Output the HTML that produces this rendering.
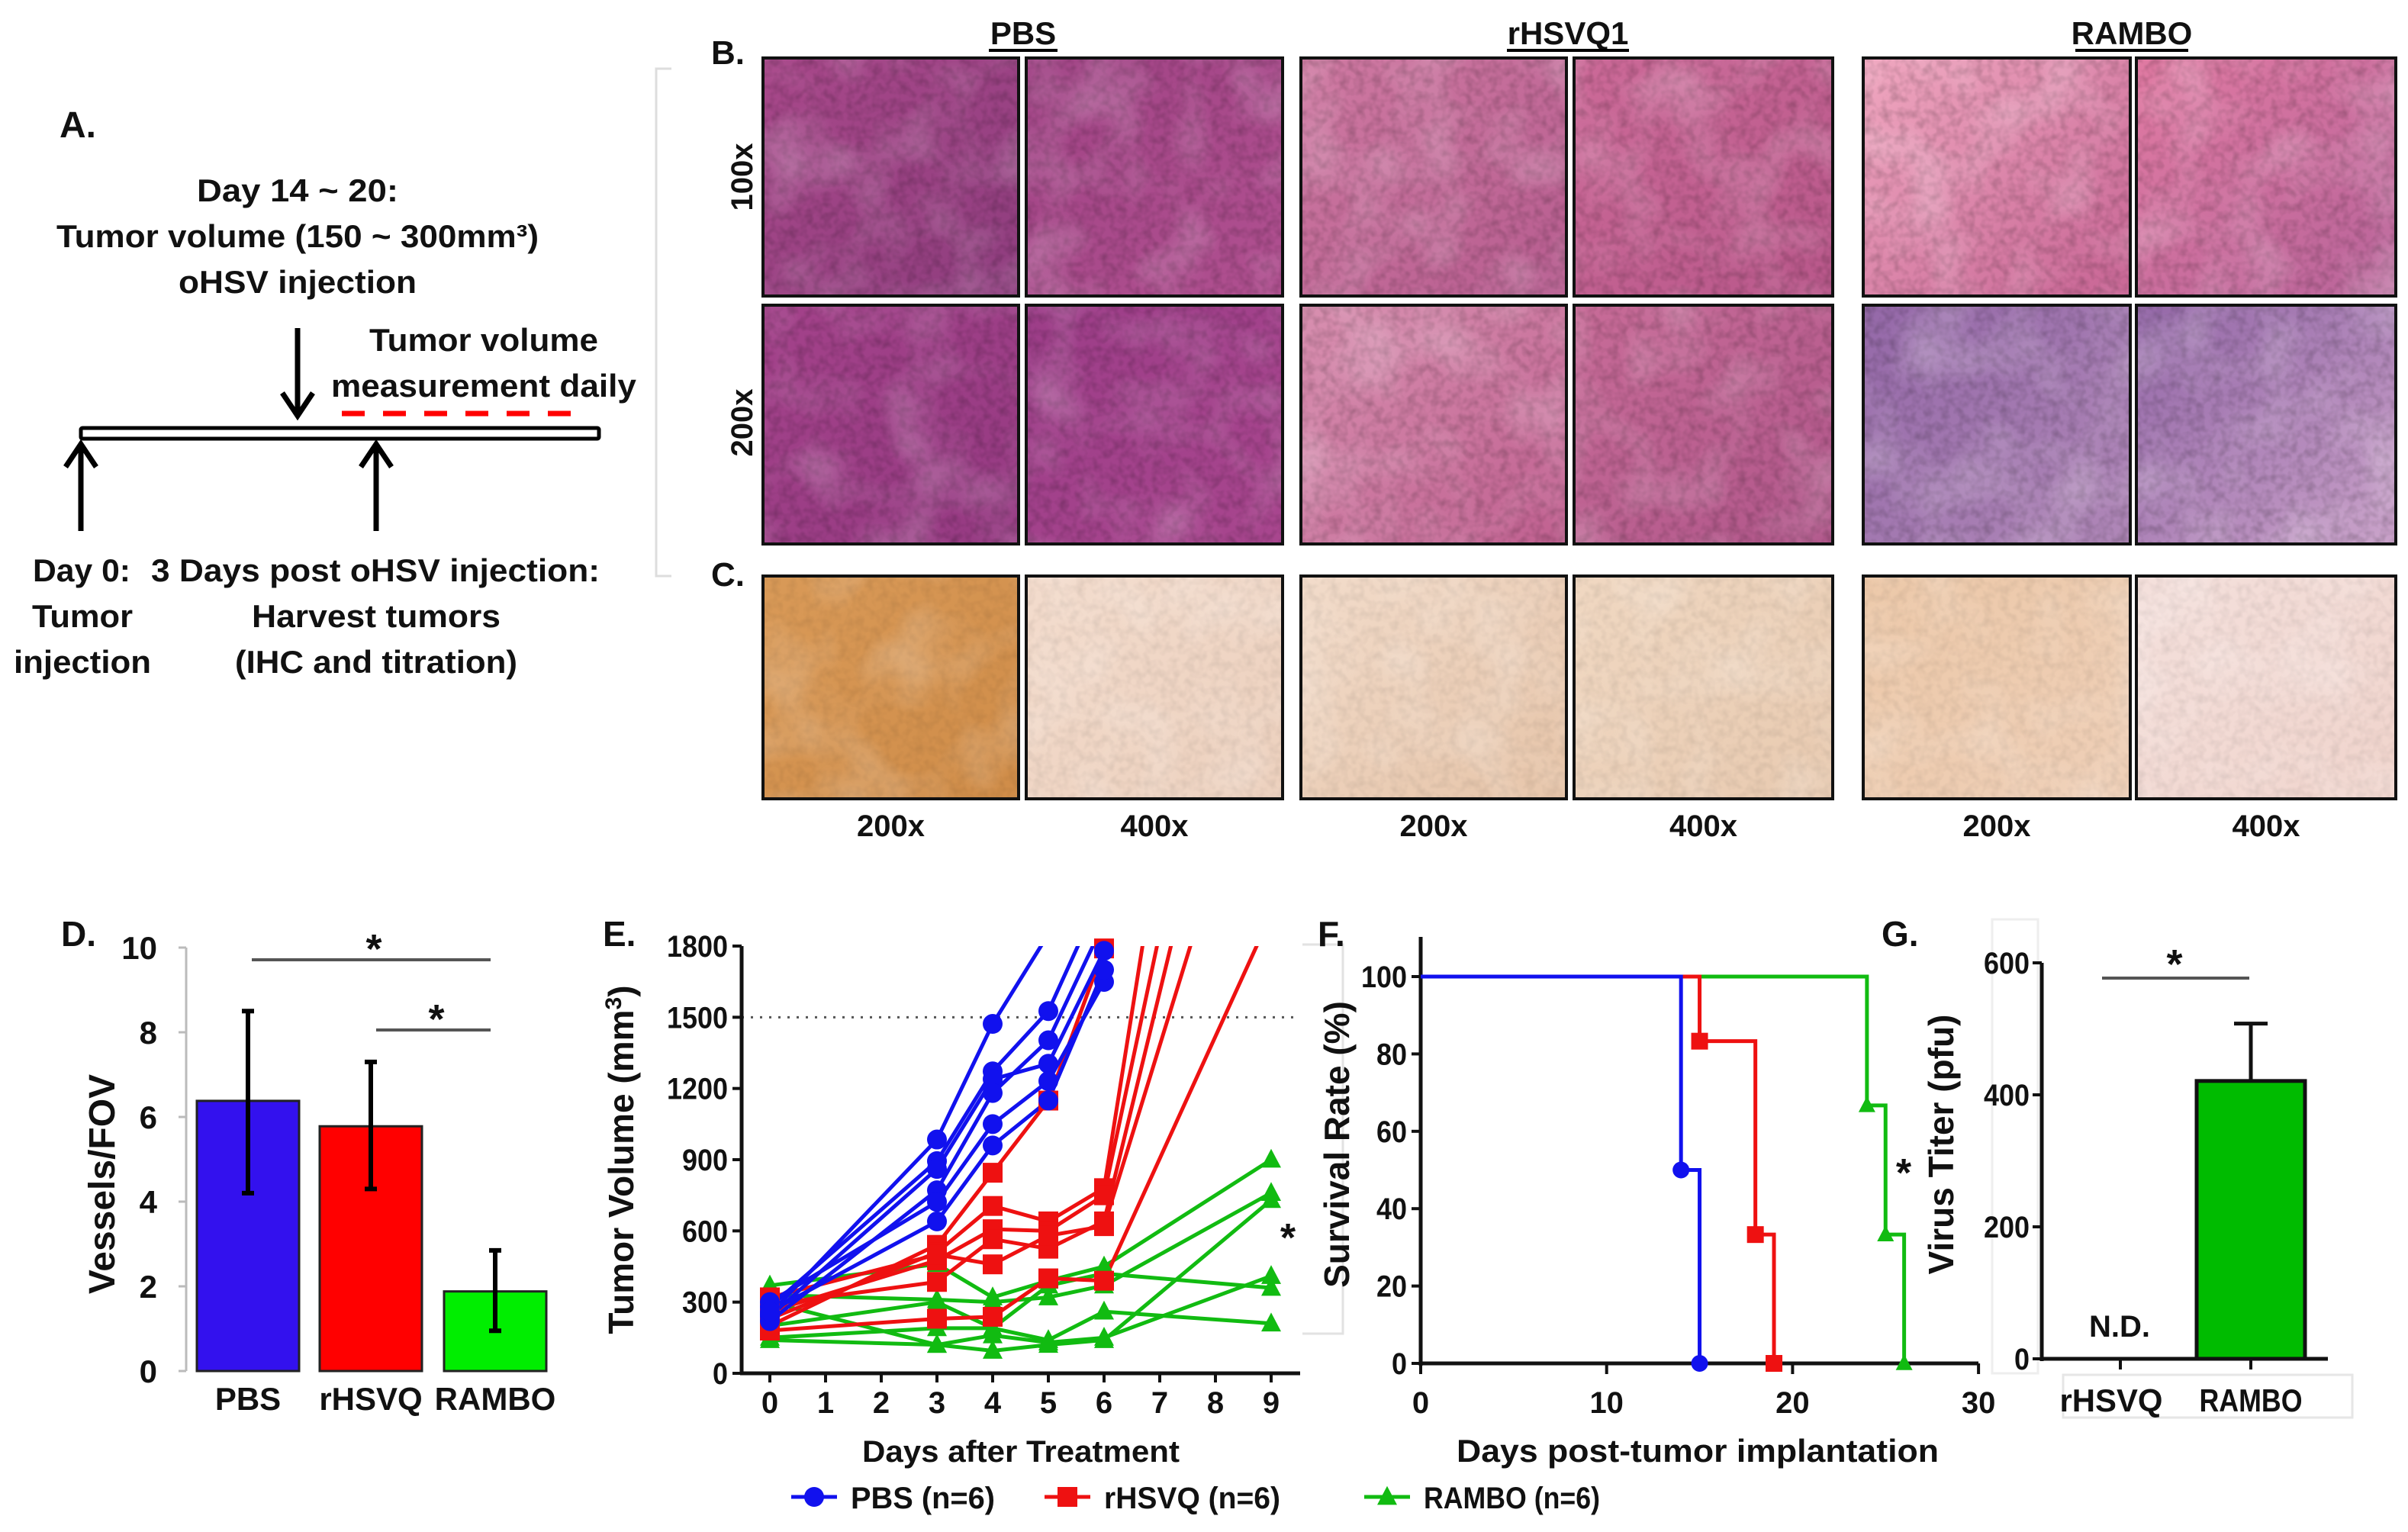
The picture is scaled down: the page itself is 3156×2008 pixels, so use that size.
<!DOCTYPE html>
<html><head><meta charset="utf-8"><style>
html,body{margin:0;padding:0;background:#fff}
svg text{font-family:"Liberation Sans",Arial,sans-serif;font-weight:bold;fill:#111}
</style></head><body>
<svg id="fig" xmlns="http://www.w3.org/2000/svg" width="3156" height="2003" viewBox="0 0 3156 2003">
<defs>
 <filter id="noise" x="0" y="0" width="100%" height="100%">
  <feTurbulence type="fractalNoise" baseFrequency="0.09" numOctaves="2" seed="3"/>
  <feColorMatrix type="matrix" values="0 0 0 0 0  0 0 0 0 0  0 0 0 0 0  0 0 0 1.2 -0.45"/>
 </filter>
 <filter id="noise2" x="0" y="0" width="100%" height="100%">
  <feTurbulence type="fractalNoise" baseFrequency="0.012" numOctaves="2" seed="7"/>
  <feColorMatrix type="matrix" values="0 0 0 0 1  0 0 0 0 1  0 0 0 0 1  0 0 0 1.4 -0.6"/>
 </filter>
 <clipPath id="clipE"><rect x="972" y="1240" width="740" height="574"/></clipPath>
</defs>

<!-- Panel A -->
<g>
 <text x="78" y="180" font-size="48">A.</text>
 <text x="390" y="264" font-size="42" text-anchor="middle" textLength="264" lengthAdjust="spacingAndGlyphs">Day 14 ~ 20:</text>
 <text x="390" y="324" font-size="42" text-anchor="middle" textLength="632" lengthAdjust="spacingAndGlyphs">Tumor volume (150 ~ 300mm³)</text>
 <text x="390" y="384" font-size="42" text-anchor="middle" textLength="312" lengthAdjust="spacingAndGlyphs">oHSV injection</text>
 <text x="634" y="460" font-size="42" text-anchor="middle" textLength="300" lengthAdjust="spacingAndGlyphs">Tumor volume</text>
 <text x="634" y="520" font-size="42" text-anchor="middle" textLength="400" lengthAdjust="spacingAndGlyphs">measurement daily</text>
 <line x1="448" y1="542" x2="763" y2="542" stroke="#f00" stroke-width="7" stroke-dasharray="30,24"/>
 <rect x="106" y="561" width="679" height="14" fill="#fff" stroke="#000" stroke-width="5" rx="2"/>
 <g stroke="#000" stroke-width="7" fill="none">
  <line x1="390" y1="430" x2="390" y2="540"/><polyline points="370,515 390,545 410,515"/>
  <line x1="106" y1="586" x2="106" y2="696"/><polyline points="86,612 106,582 126,612"/>
  <line x1="493" y1="586" x2="493" y2="696"/><polyline points="473,612 493,582 513,612"/>
 </g>
 <text x="43" y="762" font-size="42" textLength="128" lengthAdjust="spacingAndGlyphs">Day 0:</text>
 <text x="198" y="762" font-size="42" textLength="588" lengthAdjust="spacingAndGlyphs">3 Days post oHSV injection:</text>
 <text x="108" y="822" font-size="42" text-anchor="middle" textLength="132" lengthAdjust="spacingAndGlyphs">Tumor</text>
 <text x="108" y="882" font-size="42" text-anchor="middle" textLength="180" lengthAdjust="spacingAndGlyphs">injection</text>
 <text x="493" y="822" font-size="42" text-anchor="middle" textLength="326" lengthAdjust="spacingAndGlyphs">Harvest tumors</text>
 <text x="493" y="882" font-size="42" text-anchor="middle" textLength="370" lengthAdjust="spacingAndGlyphs">(IHC and titration)</text>
</g>

<!-- Panels B/C -->
<g id="micro">
 <polyline points="880,90 860,90 860,755 880,755" fill="none" stroke="#ddd" stroke-width="3"/>
 <text x="932" y="84" font-size="44">B.</text>
 <text x="932" y="768" font-size="44">C.</text>
 <text x="1341" y="58" font-size="42" text-anchor="middle">PBS</text>
 <line x1="1296" y1="66" x2="1386" y2="66" stroke="#000" stroke-width="4"/>
 <text x="2055" y="58" font-size="42" text-anchor="middle">rHSVQ1</text>
 <line x1="1975" y1="66" x2="2135" y2="66" stroke="#000" stroke-width="4"/>
 <text x="2794" y="58" font-size="42" text-anchor="middle">RAMBO</text>
 <line x1="2720" y1="66" x2="2868" y2="66" stroke="#000" stroke-width="4"/>
 <text transform="translate(986,232) rotate(-90)" font-size="40" text-anchor="middle">100x</text>
 <text transform="translate(986,554) rotate(-90)" font-size="40" text-anchor="middle">200x</text>
</g>

<!-- Panel D -->
<g id="panelD">
 <text x="80" y="1240" font-size="46">D.</text>
 <text transform="translate(150,1552) rotate(-90)" font-size="48" text-anchor="middle">Vessels/FOV</text>
</g>
<!-- Panel E -->
<g id="panelE">
 <text x="790" y="1240" font-size="46">E.</text>
 <text transform="translate(830,1520) rotate(-90)" font-size="46" text-anchor="middle">Tumor  Volume (mm<tspan font-size="30" dy="-16">3</tspan><tspan dy="16">)</tspan></text>
 <text x="1338" y="1916" font-size="40" text-anchor="middle" textLength="416" lengthAdjust="spacingAndGlyphs">Days after  Treatment</text>
 <polyline points="1707,1238 1760,1238 1760,1748 1707,1748" fill="none" stroke="#e2e2e2" stroke-width="3"/>
 <text x="1688" y="1640" font-size="52" text-anchor="middle">*</text>
</g>
<!-- Panel F -->
<g id="panelF">
 <text x="1727" y="1240" font-size="46">F.</text>
 <text transform="translate(1768,1500) rotate(-90)" font-size="46" text-anchor="middle">Survival Rate (%)</text>
 <text x="2225" y="1916" font-size="42" text-anchor="middle" textLength="632" lengthAdjust="spacingAndGlyphs">Days post-tumor implantation</text>
 <text x="2495" y="1555" font-size="52" text-anchor="middle">*</text>
</g>
<!-- Panel G -->
<g id="panelG">
 <text x="2466" y="1240" font-size="46">G.</text>
 <rect x="2611" y="1205" width="60" height="595" fill="none" stroke="#eee" stroke-width="3"/>
 <text transform="translate(2560,1500) rotate(-90)" font-size="46" text-anchor="middle">Virus  Titer (pfu)</text>
 <rect x="2704" y="1802" width="379" height="56" fill="none" stroke="#e6e6e6" stroke-width="3"/>
 <text x="2778" y="1752" font-size="40" text-anchor="middle">N.D.</text>
</g>
<g id="legend"></g>
</svg>
<script>
// ---------- data ----------
const dCategories = ["PBS", "rHSVQ", "RAMBO"];
const dMeans = [6.38, 5.78, 1.88];
const dErrLow = [4.2, 4.3, 0.95];
const dErrHigh = [8.5, 7.3, 2.85];
const dTicks = [0, 2, 4, 6, 8, 10];

const eDays = [0, 3, 4, 5, 6, 7, 8, 9];
const eTicksY = [0, 300, 600, 900, 1200, 1500, 1800];
const eTicksX = [0, 1, 2, 3, 4, 5, 6, 7, 8, 9];
const ePbs = [
 [[0,250],[3,985],[4,1472],[5,1850]],
 [[0,280],[3,894],[4,1272],[5,1526],[6,2043]],
 [[0,240],[3,861],[4,1239],[5,1304],[6,1780]],
 [[0,220],[3,771],[4,1181],[5,1403],[6,1900]],
 [[0,300],[3,722],[4,1050],[5,1231],[6,1649]],
 [[0,260],[3,640],[4,960],[5,1149],[6,1700]]
];
const eRhsvq = [
 [[0,200],[3,541],[4,845],[5,1149],[6,1790]],
 [[0,230],[3,509],[4,705],[5,640],[6,780],[7,2258]],
 [[0,260],[3,476],[4,607],[5,600],[6,750],[7,1855]],
 [[0,290],[3,385],[4,565],[5,525],[6,640],[8,2573]],
 [[0,320],[3,500],[4,459],[5,580],[6,620],[8,2143]],
 [[0,180],[3,230],[4,238],[5,400],[6,390],[9,1934]]
];
const eRambo = [
 [[0,370],[3,460],[4,320],[5,390],[6,450],[9,900]],
 [[0,330],[3,310],[4,300],[5,320],[6,370],[9,760]],
 [[0,200],[3,300],[4,190],[5,370],[6,420],[9,360]],
 [[0,150],[3,190],[4,190],[5,140],[6,260],[9,210]],
 [[0,140],[3,120],[4,95],[5,120],[6,140],[9,730]],
 [[0,300],[3,120],[4,160],[5,130],[6,150],[9,410]]
];

const fTicksX = [0, 10, 20, 30];
const fTicksY = [0, 20, 40, 60, 80, 100];
const fPbsSteps = [[0,100],[14,50],[15,0]];
const fRhsvqSteps = [[0,100],[15,83.3],[18,33.3],[19,0]];
const fRamboSteps = [[0,100],[24,66.7],[25,33.3],[26,0]];

const gCategories = ["rHSVQ", "RAMBO"];
const gMeans = [0, 421];
const gErrHigh = [0, 508];
const gTicks = [0, 200, 400, 600];

// ---------- helpers ----------
const NS = "http://www.w3.org/2000/svg";
function mk(tag, attrs, parent) {
  const el = document.createElementNS(NS, tag);
  for (const k in attrs) el.setAttribute(k, attrs[k]);
  parent.appendChild(el);
  return el;
}
function txt(s, attrs, parent) { const t = mk("text", attrs, parent); t.textContent = s; return t; }

// ---------- micrographs ----------
const micro = document.getElementById("micro");
const colX = [1000, 1345, 1705, 2063, 2442, 2800];
const colW = [335, 336, 348, 339, 350, 340];
const rowY = [76, 400, 755];
const rowH = [312, 313, 292];
const colors = [
 [["#a8488a","#8e3d7e"],["#a04385","#b05090"],["#cf7aa2","#b65c8f"],["#cc6a98","#b8578a"],["#f0a8c0","#c76494"],["#e07aa2","#b8649a"]],
 [["#a3428a","#953a82"],["#9c3d88","#a8468e"],["#d890b0","#c06090"],["#c86c98","#b0568a"],["#9468a8","#b088b8"],["#9468a8","#c8a0c8"]],
 [["#d99a58","#cf8c48"],["#f3dccd","#ecd0bd"],["#f2dccb","#e6c4a8"],["#f0d8c2","#e8cab0"],["#ecc8a8","#efd0b8"],["#f4e0dc","#f0d4cc"]]
];
const rowNames = ["100x", "200x", "ihc"];
for (let r = 0; r < 3; r++) {
  for (let c = 0; c < 6; c++) {
    const gid = "g" + r + c;
    const defs = document.querySelector("defs");
    const lg = mk("linearGradient", {id: gid, x1: "0", y1: "0", x2: "1", y2: "1"}, defs);
    mk("stop", {offset: "0", "stop-color": colors[r][c][0]}, lg);
    mk("stop", {offset: "1", "stop-color": colors[r][c][1]}, lg);
    const g = mk("g", {}, micro);
    
    
    mk("rect", {x: colX[c], y: rowY[r], width: colW[c], height: rowH[r], fill: "url(#" + gid + ")"}, g);
    mk("rect", {x: colX[c], y: rowY[r], width: colW[c], height: rowH[r], fill: "#000", filter: "url(#noise)", opacity: r === 2 ? 0.12 : 0.3}, g);
    mk("rect", {x: colX[c], y: rowY[r], width: colW[c], height: rowH[r], fill: "#fff", filter: "url(#noise2)", opacity: 0.35}, g);
    mk("rect", {x: colX[c], y: rowY[r], width: colW[c], height: rowH[r], fill: "none", stroke: "#111", "stroke-width": 4}, g);
  }
}
const magLabels = ["200x", "400x", "200x", "400x", "200x", "400x"];
for (let c = 0; c < 6; c++) {
  const t = txt(magLabels[c], {x: colX[c] + colW[c] / 2, y: 1096, "font-size": 40, "text-anchor": "middle"}, micro);
  
  
}

// ---------- Panel D ----------
const D = document.getElementById("panelD");
const yD = v => 1797 - v * 55.5;
const xDc = [325, 486, 649];
const dColors = ["#3311ee", "#ff0000", "#00ee00"];
mk("line", {x1: 244, y1: yD(0), x2: 244, y2: yD(10), stroke: "#bbb", "stroke-width": 3}, D);
dTicks.forEach(v => {
  mk("line", {x1: 234, y1: yD(v), x2: 244, y2: yD(v), stroke: "#bbb", "stroke-width": 3}, D);
  const t = txt(String(v), {x: 206, y: yD(v) + 15, "font-size": 42, "text-anchor": "end"}, D);
  
  
});
dCategories.forEach((cat, i) => {
  const b = mk("rect", {x: xDc[i] - 67, y: yD(dMeans[i]), width: 134, height: yD(0) - yD(dMeans[i]), fill: dColors[i], stroke: "#222", "stroke-width": 3}, D);
  
  
  const e = mk("path", {d: `M${xDc[i]},${yD(dErrLow[i])}V${yD(dErrHigh[i])}M${xDc[i]-8},${yD(dErrLow[i])}h16M${xDc[i]-8},${yD(dErrHigh[i])}h16`, stroke: "#000", "stroke-width": 6, fill: "none"}, D);
  
  
  const t = txt(cat, {x: xDc[i], y: 1848, "font-size": 42, "text-anchor": "middle"}, D);
  
  
});
mk("line", {x1: 330, y1: 1258, x2: 643, y2: 1258, stroke: "#555", "stroke-width": 4}, D);
mk("line", {x1: 493, y1: 1350, x2: 643, y2: 1350, stroke: "#555", "stroke-width": 4}, D);
txt("*", {x: 490, y: 1262, "font-size": 54, "text-anchor": "middle"}, D);
txt("*", {x: 572, y: 1354, "font-size": 54, "text-anchor": "middle"}, D);

// ---------- Panel E ----------
const E = document.getElementById("panelE");
const xE = d => 1009 + d * 73;
const yE = v => 1800 - v * (560 / 1800);
mk("line", {x1: 972, y1: yE(1500), x2: 1704, y2: yE(1500), stroke: "#555", "stroke-width": 3, "stroke-dasharray": "3,9"}, E);
mk("line", {x1: 972, y1: yE(0), x2: 972, y2: yE(1800), stroke: "#111", "stroke-width": 5}, E);
mk("line", {x1: 970, y1: yE(0), x2: 1704, y2: yE(0), stroke: "#111", "stroke-width": 5}, E);
eTicksY.forEach(v => {
  mk("line", {x1: 960, y1: yE(v), x2: 972, y2: yE(v), stroke: "#111", "stroke-width": 4}, E);
  const t = txt(String(v), {x: 954, y: yE(v) + 14, "font-size": 40, "text-anchor": "end", textLength: String(v).length * 20, lengthAdjust: "spacingAndGlyphs"}, E);
  
  
});
eTicksX.forEach(d => {
  mk("line", {x1: xE(d), y1: yE(0), x2: xE(d), y2: yE(0) + 12, stroke: "#111", "stroke-width": 4}, E);
  const t = txt(String(d), {x: xE(d), y: 1852, "font-size": 40, "text-anchor": "middle"}, E);
  
  
});
function marker(parent, type, x, y, color, s) {
  if (type === "circle") return mk("circle", {cx: x, cy: y, r: s, fill: color}, parent);
  if (type === "square") return mk("rect", {x: x - s, y: y - s, width: 2 * s, height: 2 * s, fill: color}, parent);
  return mk("polygon", {points: `${x},${y - s * 1.1} ${x - s},${y + s * 0.8} ${x + s},${y + s * 0.8}`, fill: color}, parent);
}
const eGroups = [[eRambo, "#11bb11", "triangle", "rambo"], [eRhsvq, "#ee1111", "square", "rhsvq"], [ePbs, "#1111ee", "circle", "pbs"]];
const clipLines = mk("g", {"clip-path": "url(#clipE)"}, E);
eGroups.forEach(([series, color, mt, nm]) => {
  series.forEach((s, k) => {
    const pl = mk("polyline", {points: s.map(p => xE(p[0]) + "," + yE(p[1])).join(" "), fill: "none", stroke: color, "stroke-width": 5}, clipLines);
    
    
  });
});
const markG = mk("g", {}, E);
eGroups.forEach(([series, color, mt, nm]) => {
  series.forEach(s => {
    s.forEach(p => {
      if (p[1] <= 1800) {
        const m = marker(markG, mt, xE(p[0]), yE(p[1]), color, 13);
        
        
      }
    });
  });
});

// legend
const L = document.getElementById("legend");
const legItems = [["PBS (n=6)", "#1111ee", "circle", 1037], ["rHSVQ (n=6)", "#ee1111", "square", 1369], ["RAMBO (n=6)", "#11bb11", "triangle", 1788]];
legItems.forEach(([lab, color, mt, x]) => {
  const g = mk("g", {}, L);
  
  
  mk("line", {x1: x, y1: 1962, x2: x + 60, y2: 1962, stroke: color, "stroke-width": 5}, g);
  marker(g, mt, x + 30, 1962, color, 13);
  txt(lab, {x: x + 78, y: 1977, "font-size": 40, textLength: lab.length * 21, lengthAdjust: "spacingAndGlyphs"}, g);
});

// ---------- Panel F ----------
const F = document.getElementById("panelF");
const xF = d => 1862 + d * 24.37;
const yF = v => 1787 - v * 5.07;
mk("line", {x1: 1862, y1: 1228, x2: 1862, y2: 1790, stroke: "#111", "stroke-width": 5}, F);
mk("line", {x1: 1860, y1: yF(0), x2: 2593, y2: yF(0), stroke: "#111", "stroke-width": 5}, F);
fTicksY.forEach(v => {
  mk("line", {x1: 1850, y1: yF(v), x2: 1862, y2: yF(v), stroke: "#111", "stroke-width": 4}, F);
  const t = txt(String(v), {x: 1844, y: yF(v) + 14, "font-size": 40, "text-anchor": "end", textLength: String(v).length * 20, lengthAdjust: "spacingAndGlyphs"}, F);
  
  
});
fTicksX.forEach(d => {
  mk("line", {x1: xF(d), y1: yF(0), x2: xF(d), y2: yF(0) + 14, stroke: "#111", "stroke-width": 4}, F);
  const t = txt(String(d), {x: xF(d), y: 1852, "font-size": 40, "text-anchor": "middle"}, F);
  
  
});
[[fRamboSteps, "#11bb11", "triangle", "rambo"], [fRhsvqSteps, "#ee1111", "square", "rhsvq"], [fPbsSteps, "#1111ee", "circle", "pbs"]].forEach(([st, color, mt, nm]) => {
  let p = `M${xF(st[0][0])},${yF(st[0][1])}`;
  for (let i = 1; i < st.length; i++) {
    p += `H${xF(st[i][0])}V${yF(st[i][1])}`;
  }
  const path = mk("path", {d: p, fill: "none", stroke: color, "stroke-width": 5}, F);
  
  
  for (let i = 1; i < st.length; i++) {
    const m = marker(F, mt, xF(st[i][0]), yF(st[i][1]), color, 11);
    
    
  }
});

// ---------- Panel G ----------
const G = document.getElementById("panelG");
const yG = v => 1781 - v * 0.865;
const xGc = [2779, 2950];
mk("line", {x1: 2676, y1: yG(0) + 3, x2: 2676, y2: yG(600), stroke: "#111", "stroke-width": 5}, G);
mk("line", {x1: 2674, y1: yG(0), x2: 3051, y2: yG(0), stroke: "#111", "stroke-width": 5}, G);
gTicks.forEach(v => {
  mk("line", {x1: 2664, y1: yG(v), x2: 2676, y2: yG(v), stroke: "#111", "stroke-width": 4}, G);
  const t = txt(String(v), {x: 2660, y: yG(v) + 14, "font-size": 40, "text-anchor": "end", textLength: String(v).length * 20, lengthAdjust: "spacingAndGlyphs"}, G);
  
  
});
gCategories.forEach((cat, i) => {
  mk("line", {x1: xGc[i], y1: yG(0), x2: xGc[i], y2: yG(0) + 14, stroke: "#111", "stroke-width": 4}, G);
  if (gMeans[i] > 0) {
    const b = mk("rect", {x: xGc[i] - 71, y: yG(gMeans[i]), width: 142, height: yG(0) - yG(gMeans[i]), fill: "#00bb00", stroke: "#111", "stroke-width": 5}, G);
    
    
    const e = mk("path", {d: `M${xGc[i]},${yG(gMeans[i])}V${yG(gErrHigh[i])}M${xGc[i]-22},${yG(gErrHigh[i])}h44`, stroke: "#111", "stroke-width": 5, fill: "none"}, G);
    
    
  }
  const t = txt(cat, {x: xGc[i] - (i === 0 ? 12 : 0), y: 1850, "font-size": 42, "text-anchor": "middle", textLength: cat.length * 27, lengthAdjust: "spacingAndGlyphs"}, G);
  
  
});
mk("line", {x1: 2755, y1: 1282, x2: 2948, y2: 1282, stroke: "#555", "stroke-width": 4}, G);
txt("*", {x: 2850, y: 1282, "font-size": 54, "text-anchor": "middle"}, G);
</script>
</body></html>
